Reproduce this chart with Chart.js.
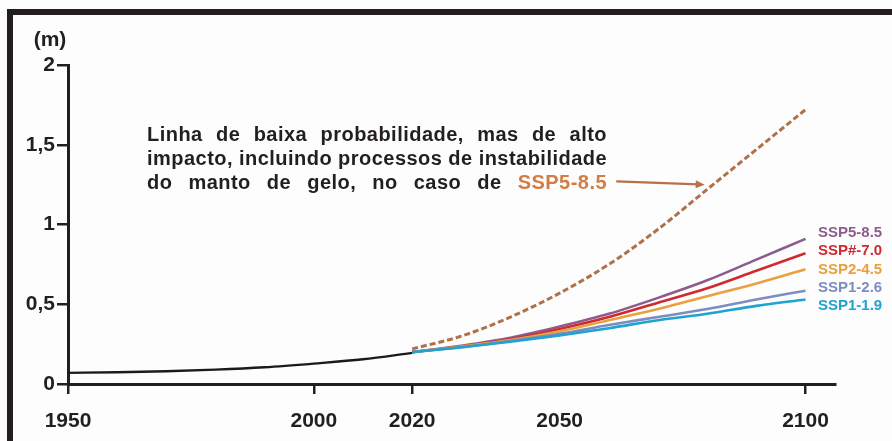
<!DOCTYPE html>
<html>
<head>
<meta charset="utf-8">
<script src="https://cdn.jsdelivr.net/npm/chart.js@4"></script>
<style>
  html, body { margin: 0; padding: 0; background: #fdfdfd; }
  #wrap { position: relative; width: 892px; height: 441px; overflow: hidden; }
  #myChart { position: absolute; left: 0; top: 0; }
  #moldura { position: absolute; left: 7px; top: 9px; right: -20px; bottom: -20px;
    border-top: 6px solid #221e1f; border-left: 6px solid #221e1f; pointer-events: none; }
</style>
</head>
<body>
<div id="wrap">
  <canvas id="myChart" width="892" height="441"></canvas>
  <div id="moldura"></div>
</div>
<script>
// dados historicos (m)
var anosHist = [1950, 1960, 1970, 1980, 1990, 2000, 2010, 2020];
var nivelHist = [0.07, 0.074, 0.08, 0.09, 0.105, 0.128, 0.155, 0.195];

// projecoes
var anosProj = [2020, 2030, 2040, 2050, 2060, 2070, 2080, 2090, 2100];
var ssp585 = [0.2, 0.24, 0.29, 0.36, 0.44, 0.54, 0.65, 0.78, 0.91];
var ssp370 = [0.2, 0.235, 0.28, 0.345, 0.42, 0.51, 0.6, 0.71, 0.82];
var ssp245 = [0.2, 0.235, 0.275, 0.33, 0.4, 0.47, 0.55, 0.63, 0.72];
var ssp126 = [0.2, 0.23, 0.27, 0.315, 0.37, 0.42, 0.47, 0.53, 0.585];
var ssp119 = [0.2, 0.23, 0.265, 0.305, 0.35, 0.4, 0.44, 0.49, 0.53];
// linha de baixa probabilidade, alto impacto
var ssp585Alto = [0.22, 0.3, 0.42, 0.57, 0.75, 0.97, 1.22, 1.47, 1.72];

var rotulosX = [1950, 2000, 2020, 2050, 2100];
var rotulosY = [0, 0.5, 1, 1.5, 2];
var nomesSsp = ['SSP5-8.5', 'SSP#-7.0', 'SSP2-4.5', 'SSP1-2.6', 'SSP1-1.9'];

var cores = ['#8e5c8c', '#cf2a2e', '#e9a040', '#7f8cc0', '#1fa3cf'];
var fonte = '"Liberation Sans", Arial, sans-serif';
var preto = '#231f20';

function pontos(xs, ys) {
  return xs.map(function (x, i) { return { x: x, y: ys[i] }; });
}

function linhaJustificada(ctx, partes, x0, x1, y) {
  var total = 0;
  partes.forEach(function (p) { p.w = ctx.measureText(p.t).width; total += p.w; });
  var gap = (x1 - x0 - total) / (partes.length - 1);
  var x = x0;
  partes.forEach(function (p) {
    ctx.fillStyle = p.c;
    ctx.fillText(p.t, x, y);
    x += p.w + gap;
  });
}

var anotacao = {
  id: 'anotacao',
  afterDatasetsDraw: function (chart) {
    var ctx = chart.ctx, a = chart.chartArea, xs = chart.scales.x, ys = chart.scales.y;
    ctx.save();

    // unidade
    ctx.font = 'bold 21px ' + fonte;
    ctx.fillStyle = preto;
    ctx.textAlign = 'center';
    ctx.textBaseline = 'middle';
    ctx.fillText('(m)', 50, 40);

    // texto justificado
    ctx.textAlign = 'left';
    ctx.textBaseline = 'alphabetic';
    ctx.font = 'bold 20px ' + fonte;
    var x0 = a.left + 79, x1 = a.left + 539;
    var l2 = 'impacto, incluindo processos de instabilidade';
    ctx.letterSpacing = '0px';
    var nat = ctx.measureText(l2).width;
    ctx.letterSpacing = Math.max(0, (x1 - x0 - nat) / l2.length).toFixed(2) + 'px';
    var linhas = [
      'Linha de baixa probabilidade, mas de alto',
      l2,
      'do manto de gelo, no caso de'
    ];
    linhas.forEach(function (l, i) {
      var partes = l.split(' ').map(function (w) { return { t: w, c: preto }; });
      if (i === 2) partes.push({ t: 'SSP5-8.5', c: '#d27d45' });
      linhaJustificada(ctx, partes, x0, x1, a.top + 76 + i * 24);
    });

    // seta
    var ax0 = xs.getPixelForValue(2061.5), ay0 = ys.getPixelForValue(1.27);
    var ax1 = xs.getPixelForValue(2079.5), ay1 = ys.getPixelForValue(1.25);
    var ang = Math.atan2(ay1 - ay0, ax1 - ax0);
    ctx.strokeStyle = '#b8704a';
    ctx.fillStyle = '#b8704a';
    ctx.lineWidth = 2.2;
    ctx.beginPath();
    ctx.moveTo(ax0, ay0);
    ctx.lineTo(ax1 - 6 * Math.cos(ang), ay1 - 6 * Math.sin(ang));
    ctx.stroke();
    ctx.beginPath();
    ctx.moveTo(ax1, ay1);
    ctx.lineTo(ax1 - 9 * Math.cos(ang) + 4 * Math.sin(ang), ay1 - 9 * Math.sin(ang) - 4 * Math.cos(ang));
    ctx.lineTo(ax1 - 9 * Math.cos(ang) - 4 * Math.sin(ang), ay1 - 9 * Math.sin(ang) + 4 * Math.cos(ang));
    ctx.closePath();
    ctx.fill();

    // rotulos dos cenarios
    ctx.font = 'bold 15px ' + fonte;
    ctx.letterSpacing = '0px';
    ctx.textBaseline = 'middle';
    nomesSsp.forEach(function (n, i) {
      ctx.fillStyle = cores[i];
      ctx.fillText(n, a.right - 17, a.top + 168 + i * 18.3);
    });
    ctx.restore();
  }
};

var conjuntos = [];
// ordem: os primeiros ficam por cima
[4, 3, 2, 1, 0].forEach(function (k) {
  conjuntos.push({
    data: pontos(anosProj, [ssp585, ssp370, ssp245, ssp126, ssp119][k]),
    borderColor: cores[k], borderWidth: 2.6, cubicInterpolationMode: 'monotone'
  });
});
conjuntos.push({
  data: pontos(anosHist, nivelHist),
  borderColor: '#1c1a1b', borderWidth: 2.4, cubicInterpolationMode: 'monotone'
});
conjuntos.push({
  data: pontos(anosProj, ssp585Alto),
  borderColor: '#b0704a', borderWidth: 3, borderDash: [6, 3], cubicInterpolationMode: 'monotone'
});

var grafico = new Chart('myChart', {
  type: 'line',
  data: { datasets: conjuntos },
  options: {
    responsive: false,
    animation: false,
    layout: { padding: { top: 65, right: 57, left: 0, bottom: 0 } },
    plugins: { legend: { display: false }, tooltip: { enabled: false } },
    elements: { point: { radius: 0 } },
    scales: {
      x: {
        type: 'linear', min: 1950, max: 2106,
        afterFit: function (s) { s.height = 57; },
        afterBuildTicks: function (s) { s.ticks = rotulosX.map(function (v) { return { value: v }; }); },
        border: { color: preto, width: 3 },
        grid: {
          drawOnChartArea: false, tickLength: 10, lineWidth: 2.5,
          color: function (c) { return c.tick && c.tick.value === 2050 ? 'rgba(0,0,0,0)' : preto; }
        },
        ticks: {
          autoSkip: false, maxRotation: 0, padding: 15, color: preto,
          font: { family: fonte, size: 21, weight: 'bold' },
          callback: function (v) { return String(v); }
        }
      },
      y: {
        min: 0, max: 2,
        afterFit: function (s) { s.width = 68; },
        afterBuildTicks: function (s) { s.ticks = rotulosY.map(function (v) { return { value: v }; }); },
        border: { color: preto, width: 3 },
        grid: { drawOnChartArea: false, tickLength: 11, lineWidth: 2.5, color: preto },
        ticks: {
          padding: 2, color: preto,
          font: { family: fonte, size: 21, weight: 'bold' },
          callback: function (v) { return String(v).replace('.', ','); }
        }
      }
    }
  },
  plugins: [anotacao]
});
</script>
</body>
</html>
